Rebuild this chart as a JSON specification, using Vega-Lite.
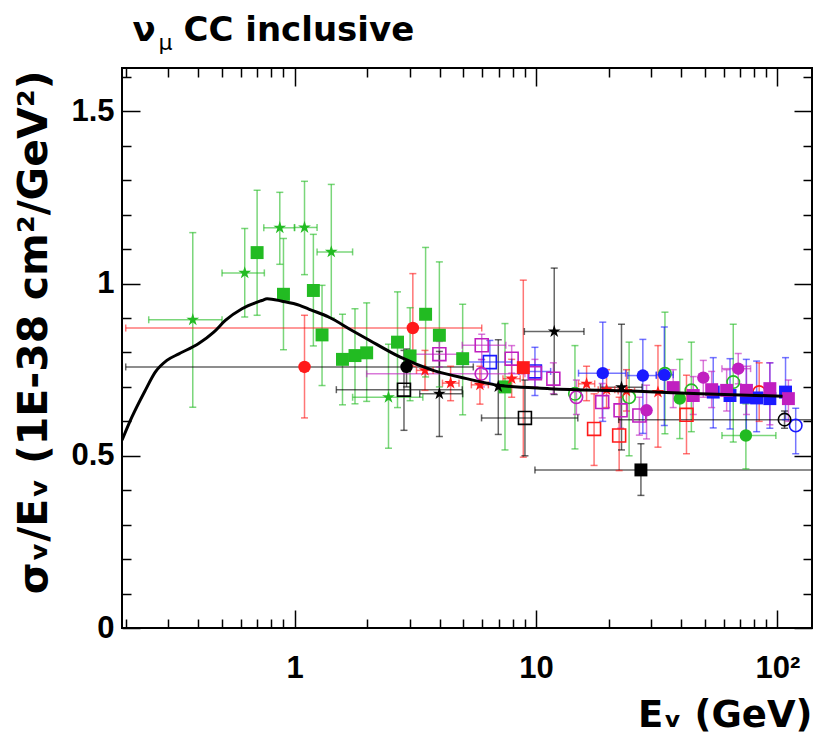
{
  "$schema": "https://vega.github.io/schema/vega-lite/v6.json",
  "width": 690,
  "height": 560,
  "autosize": "none",
  "padding": {"left": 122, "top": 68, "right": 2, "bottom": 116},
  "background": "white",
  "config": {"view": {"stroke": "black", "strokeWidth": 2}},
  "datasets": {
    "curve": [
      {"E": 0.193, "y": 0.545}, {"E": 0.212, "y": 0.612}, {"E": 0.241, "y": 0.69},
      {"E": 0.265, "y": 0.743}, {"E": 0.296, "y": 0.777}, {"E": 0.332, "y": 0.796},
      {"E": 0.401, "y": 0.826}, {"E": 0.463, "y": 0.859}, {"E": 0.517, "y": 0.893},
      {"E": 0.606, "y": 0.927}, {"E": 0.733, "y": 0.951}, {"E": 0.77, "y": 0.956},
      {"E": 0.888, "y": 0.949}, {"E": 1.05, "y": 0.937}, {"E": 1.145, "y": 0.926},
      {"E": 1.386, "y": 0.903}, {"E": 1.73, "y": 0.864}, {"E": 1.99, "y": 0.840},
      {"E": 2.73, "y": 0.787}, {"E": 3.75, "y": 0.748}, {"E": 5.16, "y": 0.724},
      {"E": 7.1, "y": 0.704}, {"E": 11.4, "y": 0.695}, {"E": 25, "y": 0.688},
      {"E": 48, "y": 0.68}, {"E": 105, "y": 0.673}
    ],
    "pts": [
      {"E": 0.379, "y": 0.895, "ylo": 0.641, "yhi": 1.148, "xlo": 0.249, "xhi": 0.501, "s": "g", "sh": "star", "f": 1},
      {"E": 0.622, "y": 1.031, "ylo": 0.903, "yhi": 1.16, "xlo": 0.501, "xhi": 0.75, "s": "g", "sh": "star", "f": 1},
      {"E": 0.869, "y": 1.162, "ylo": 1.056, "yhi": 1.265, "xlo": 0.746, "xhi": 1.0, "s": "g", "sh": "star", "f": 1},
      {"E": 1.10, "y": 1.163, "ylo": 1.026, "yhi": 1.297, "xlo": 1.0, "xhi": 1.24, "s": "g", "sh": "star", "f": 1},
      {"E": 1.42, "y": 1.092, "ylo": 0.90, "yhi": 1.288, "xlo": 1.24, "xhi": 1.74, "s": "g", "sh": "star", "f": 1},
      {"E": 2.45, "y": 0.670, "ylo": 0.522, "yhi": 0.824, "xlo": 1.74, "xhi": 3.4, "s": "g", "sh": "star", "f": 1},
      {"E": 0.70, "y": 1.090, "ylo": 0.908, "yhi": 1.271, "xlo": null, "xhi": null, "s": "g", "sh": "square", "f": 1},
      {"E": 0.90, "y": 0.969, "ylo": 0.808, "yhi": 1.131, "xlo": null, "xhi": null, "s": "g", "sh": "square", "f": 1},
      {"E": 1.197, "y": 0.980, "ylo": 0.819, "yhi": 1.143, "xlo": null, "xhi": null, "s": "g", "sh": "square", "f": 1},
      {"E": 1.30, "y": 0.851, "ylo": 0.704, "yhi": 0.995, "xlo": null, "xhi": null, "s": "g", "sh": "square", "f": 1},
      {"E": 1.58, "y": 0.78, "ylo": 0.648, "yhi": 0.911, "xlo": null, "xhi": null, "s": "g", "sh": "square", "f": 1},
      {"E": 1.78, "y": 0.791, "ylo": 0.651, "yhi": 0.927, "xlo": null, "xhi": null, "s": "g", "sh": "square", "f": 1},
      {"E": 1.99, "y": 0.799, "ylo": 0.658, "yhi": 0.944, "xlo": null, "xhi": null, "s": "g", "sh": "square", "f": 1},
      {"E": 2.67, "y": 0.830, "ylo": 0.640, "yhi": 0.976, "xlo": null, "xhi": null, "s": "g", "sh": "square", "f": 1},
      {"E": 3.01, "y": 0.79, "ylo": 0.66, "yhi": 0.93, "xlo": null, "xhi": null, "s": "g", "sh": "square", "f": 1},
      {"E": 3.49, "y": 0.911, "ylo": 0.729, "yhi": 1.105, "xlo": null, "xhi": null, "s": "g", "sh": "square", "f": 1},
      {"E": 3.98, "y": 0.850, "ylo": 0.70, "yhi": 1.063, "xlo": null, "xhi": null, "s": "g", "sh": "square", "f": 1},
      {"E": 4.97, "y": 0.782, "ylo": 0.619, "yhi": 0.94, "xlo": null, "xhi": null, "s": "g", "sh": "square", "f": 1},
      {"E": 7.44, "y": 0.70, "ylo": 0.517, "yhi": 0.884, "xlo": null, "xhi": null, "s": "g", "sh": "square", "f": 1},
      {"E": 34.2, "y": 0.738, "ylo": 0.564, "yhi": 0.917, "xlo": null, "xhi": null, "s": "g", "sh": "circle", "f": 0},
      {"E": 65.6, "y": 0.714, "ylo": 0.54, "yhi": 0.882, "xlo": null, "xhi": null, "s": "g", "sh": "circle", "f": 0},
      {"E": 14.5, "y": 0.68, "ylo": 0.52, "yhi": 0.82, "xlo": null, "xhi": null, "s": "g", "sh": "circle", "f": 0},
      {"E": 24.3, "y": 0.67, "ylo": 0.50, "yhi": 0.83, "xlo": null, "xhi": null, "s": "g", "sh": "circle", "f": 0},
      {"E": 44, "y": 0.69, "ylo": 0.57, "yhi": 0.83, "xlo": null, "xhi": null, "s": "g", "sh": "circle", "f": 0},
      {"E": 74, "y": 0.559, "ylo": 0.462, "yhi": 0.651, "xlo": 58.9, "xhi": 98.5, "s": "g", "sh": "circle", "f": 1},
      {"E": 39.4, "y": 0.666, "ylo": 0.55, "yhi": 0.78, "xlo": null, "xhi": null, "s": "g", "sh": "circle", "f": 1},
      {"E": 1.10, "y": 0.758, "ylo": 0.61, "yhi": 0.908, "xlo": null, "xhi": null, "s": "r", "sh": "circle", "f": 1},
      {"E": 3.09, "y": 0.871, "ylo": 0.76, "yhi": 1.029, "xlo": 0.2, "xhi": 5.96, "s": "r", "sh": "circle", "f": 1},
      {"E": 3.47, "y": 0.748, "ylo": 0.69, "yhi": 0.806, "xlo": 3.2, "xhi": 3.75, "s": "r", "sh": "star", "f": 1},
      {"E": 4.43, "y": 0.711, "ylo": 0.66, "yhi": 0.76, "xlo": 4.1, "xhi": 4.8, "s": "r", "sh": "star", "f": 1},
      {"E": 5.86, "y": 0.706, "ylo": 0.65, "yhi": 0.76, "xlo": 5.4, "xhi": 6.35, "s": "r", "sh": "star", "f": 1},
      {"E": 7.93, "y": 0.724, "ylo": 0.67, "yhi": 0.78, "xlo": 7.3, "xhi": 8.6, "s": "r", "sh": "star", "f": 1},
      {"E": 16.2, "y": 0.709, "ylo": 0.66, "yhi": 0.76, "xlo": 15.0, "xhi": 17.5, "s": "r", "sh": "star", "f": 1},
      {"E": 19.6, "y": 0.692, "ylo": 0.64, "yhi": 0.75, "xlo": 18.1, "xhi": 21.2, "s": "r", "sh": "star", "f": 1},
      {"E": 23.7, "y": 0.688, "ylo": 0.63, "yhi": 0.75, "xlo": 21.9, "xhi": 25.6, "s": "r", "sh": "star", "f": 1},
      {"E": 32, "y": 0.685, "ylo": 0.525, "yhi": 0.82, "xlo": null, "xhi": null, "s": "r", "sh": "star", "f": 1},
      {"E": 8.86, "y": 0.756, "ylo": 0.496, "yhi": 1.01, "xlo": null, "xhi": null, "s": "r", "sh": "square", "f": 1},
      {"E": 17.4, "y": 0.578, "ylo": 0.472, "yhi": 0.68, "xlo": null, "xhi": null, "s": "r", "sh": "square", "f": 0},
      {"E": 22.1, "y": 0.559, "ylo": 0.457, "yhi": 0.67, "xlo": null, "xhi": null, "s": "r", "sh": "square", "f": 0},
      {"E": 42, "y": 0.619, "ylo": 0.506, "yhi": 0.734, "xlo": null, "xhi": null, "s": "r", "sh": "square", "f": 0},
      {"E": 84, "y": 0.685, "ylo": 0.6, "yhi": 0.77, "xlo": null, "xhi": null, "s": "r", "sh": "circle", "f": 0},
      {"E": 18.9, "y": 0.74, "ylo": 0.60, "yhi": 0.888, "xlo": 15, "xhi": 23.5, "s": "b", "sh": "circle", "f": 1},
      {"E": 27.7, "y": 0.733, "ylo": 0.565, "yhi": 0.838, "xlo": 24, "xhi": 31.5, "s": "b", "sh": "circle", "f": 1},
      {"E": 34, "y": 0.735, "ylo": 0.588, "yhi": 0.874, "xlo": 31.5, "xhi": 37, "s": "b", "sh": "circle", "f": 1},
      {"E": 54.2, "y": 0.685, "ylo": 0.581, "yhi": 0.785, "xlo": null, "xhi": null, "s": "b", "sh": "square", "f": 1},
      {"E": 63.6, "y": 0.675, "ylo": 0.578, "yhi": 0.782, "xlo": null, "xhi": null, "s": "b", "sh": "square", "f": 1},
      {"E": 74.3, "y": 0.670, "ylo": 0.57, "yhi": 0.78, "xlo": null, "xhi": null, "s": "b", "sh": "square", "f": 1},
      {"E": 82, "y": 0.668, "ylo": 0.57, "yhi": 0.775, "xlo": null, "xhi": null, "s": "b", "sh": "square", "f": 1},
      {"E": 93, "y": 0.666, "ylo": 0.58, "yhi": 0.77, "xlo": null, "xhi": null, "s": "b", "sh": "square", "f": 1},
      {"E": 108, "y": 0.685, "ylo": 0.605, "yhi": 0.785, "xlo": null, "xhi": null, "s": "b", "sh": "square", "f": 1},
      {"E": 6.44, "y": 0.772, "ylo": 0.71, "yhi": 0.835, "xlo": 5.0, "xhi": 7.93, "s": "b", "sh": "square", "f": 0},
      {"E": 9.9, "y": 0.745, "ylo": 0.675, "yhi": 0.815, "xlo": 8.5, "xhi": 11.5, "s": "b", "sh": "square", "f": 0},
      {"E": 119, "y": 0.588, "ylo": 0.506, "yhi": 0.638, "xlo": null, "xhi": null, "s": "b", "sh": "circle", "f": 0},
      {"E": 3.98, "y": 0.795, "ylo": 0.758, "yhi": 0.832, "xlo": 2.95, "xhi": 4.95, "s": "m", "sh": "square", "f": 0},
      {"E": 5.96, "y": 0.821, "ylo": 0.779, "yhi": 0.853, "xlo": 4.95, "xhi": 7.5, "s": "m", "sh": "square", "f": 0},
      {"E": 7.93, "y": 0.782, "ylo": 0.74, "yhi": 0.82, "xlo": null, "xhi": null, "s": "m", "sh": "square", "f": 0},
      {"E": 9.9, "y": 0.74, "ylo": 0.70, "yhi": 0.78, "xlo": null, "xhi": null, "s": "m", "sh": "square", "f": 0},
      {"E": 11.8, "y": 0.724, "ylo": 0.68, "yhi": 0.77, "xlo": null, "xhi": null, "s": "m", "sh": "square", "f": 0},
      {"E": 18.8, "y": 0.656, "ylo": 0.61, "yhi": 0.71, "xlo": null, "xhi": null, "s": "m", "sh": "square", "f": 0},
      {"E": 22.4, "y": 0.632, "ylo": 0.58, "yhi": 0.69, "xlo": null, "xhi": null, "s": "m", "sh": "square", "f": 0},
      {"E": 26.8, "y": 0.617, "ylo": 0.56, "yhi": 0.67, "xlo": null, "xhi": null, "s": "m", "sh": "square", "f": 0},
      {"E": 5.94, "y": 0.738, "ylo": 0.70, "yhi": 0.78, "xlo": 1.99, "xhi": 9.0, "s": "m", "sh": "circle", "f": 0},
      {"E": 14.7, "y": 0.670, "ylo": 0.62, "yhi": 0.72, "xlo": null, "xhi": null, "s": "m", "sh": "circle", "f": 0},
      {"E": 28.7, "y": 0.632, "ylo": 0.549, "yhi": 0.705, "xlo": null, "xhi": null, "s": "m", "sh": "circle", "f": 1},
      {"E": 49.3, "y": 0.727, "ylo": 0.67, "yhi": 0.777, "xlo": null, "xhi": null, "s": "m", "sh": "circle", "f": 1},
      {"E": 68.8, "y": 0.753, "ylo": 0.709, "yhi": 0.797, "xlo": 58.9, "xhi": 77.4, "s": "m", "sh": "circle", "f": 1},
      {"E": 37, "y": 0.698, "ylo": 0.64, "yhi": 0.75, "xlo": null, "xhi": null, "s": "m", "sh": "square", "f": 1},
      {"E": 44.8, "y": 0.675, "ylo": 0.62, "yhi": 0.73, "xlo": null, "xhi": null, "s": "m", "sh": "square", "f": 1},
      {"E": 53.4, "y": 0.692, "ylo": 0.64, "yhi": 0.745, "xlo": null, "xhi": null, "s": "m", "sh": "square", "f": 1},
      {"E": 61.6, "y": 0.690, "ylo": 0.63, "yhi": 0.75, "xlo": null, "xhi": null, "s": "m", "sh": "square", "f": 1},
      {"E": 74.4, "y": 0.690, "ylo": 0.62, "yhi": 0.76, "xlo": null, "xhi": null, "s": "m", "sh": "square", "f": 1},
      {"E": 93, "y": 0.695, "ylo": 0.59, "yhi": 0.77, "xlo": null, "xhi": null, "s": "m", "sh": "square", "f": 1},
      {"E": 111, "y": 0.666, "ylo": 0.60, "yhi": 0.72, "xlo": null, "xhi": null, "s": "m", "sh": "square", "f": 1},
      {"E": 2.91, "y": 0.758, "ylo": 0.70, "yhi": 0.81, "xlo": 0.2, "xhi": 5.5, "s": "k", "sh": "circle", "f": 1},
      {"E": 27.2, "y": 0.459, "ylo": 0.385, "yhi": 0.535, "xlo": 9.9, "xhi": 200, "s": "k", "sh": "square", "f": 1},
      {"E": 2.84, "y": 0.692, "ylo": 0.574, "yhi": 0.806, "xlo": 1.49, "xhi": 4.95, "s": "k", "sh": "square", "f": 0},
      {"E": 9.0, "y": 0.61, "ylo": 0.50, "yhi": 0.72, "xlo": 5.95, "xhi": 14.9, "s": "k", "sh": "square", "f": 0},
      {"E": 3.98, "y": 0.68, "ylo": 0.556, "yhi": 0.803, "xlo": 3.3, "xhi": 4.97, "s": "k", "sh": "star", "f": 1},
      {"E": 11.9, "y": 0.861, "ylo": 0.678, "yhi": 1.045, "xlo": 8.95, "xhi": 15.8, "s": "k", "sh": "star", "f": 1},
      {"E": 6.98, "y": 0.701, "ylo": 0.562, "yhi": 0.837, "xlo": null, "xhi": null, "s": "k", "sh": "star", "f": 1},
      {"E": 22.6, "y": 0.699, "ylo": 0.517, "yhi": 0.882, "xlo": 18.5, "xhi": 27.5, "s": "k", "sh": "star", "f": 1},
      {"E": 107, "y": 0.605, "ylo": 0.58, "yhi": 0.63, "xlo": 22, "xhi": 200, "s": "k", "sh": "circle", "f": 0}
    ]
  },
  "resolve": {"axis": {"x": "independent", "y": "independent"}},
  "layer": [
    {
      "data": {"name": "pts"},
      "transform": [{"filter": "datum.ylo != null"}],
      "mark": {"type": "rule", "strokeWidth": 1.5, "opacity": 0.6, "clip": true},
      "encoding": {
        "x": {"field": "E", "type": "quantitative",
          "scale": {"type": "log", "domain": [0.193, 139], "nice": false},
          "axis": {"orient": "top", "offset": -18, "values": [1, 10, 100],
            "labels": false, "grid": false, "domain": false,
            "tickColor": "black", "tickWidth": 1.5, "tickSize": 18,
            "title": "μ", "titleFont": "DejaVu Sans", "titleFontSize": 22, "titleFontWeight": "normal", "titleColor": "black",
            "titleAngle": 0, "titleAlign": "left", "titleBaseline": "alphabetic", "titleX": 36, "titleY": -37}},
        "y": {"field": "ylo", "type": "quantitative",
          "scale": {"domain": [0, 1.626], "nice": false, "zero": false},
          "axis": {"orient": "right", "offset": -18, "values": [0, 0.5, 1, 1.5],
            "labels": false, "grid": false, "domain": false,
            "tickColor": "black", "tickWidth": 1.5, "tickSize": 18,
            "title": "CC inclusive", "titleFont": "DejaVu Sans", "titleFontSize": 34, "titleFontWeight": "bold", "titleColor": "black",
            "titleAngle": 0, "titleAlign": "left", "titleBaseline": "alphabetic", "titleX": -611, "titleY": -28}},
        "y2": {"field": "yhi"},
        "color": {"field": "s", "type": "nominal", "legend": null,
          "scale": {"domain": ["g","r","b","m","k"], "range": ["#22bb22","#ff1a1a","#1a1aff","#c01fc0","#000000"]}}
      }
    },
    {
      "data": {"name": "pts"},
      "transform": [{"filter": "datum.xlo != null"}],
      "mark": {"type": "rule", "strokeWidth": 1.5, "opacity": 0.6, "clip": true},
      "encoding": {
        "x": {"field": "xlo", "type": "quantitative",
          "axis": {"orient": "top", "offset": -9, "values": [0.2,0.3,0.4,0.5,0.6,0.7,0.8,0.9,2,3,4,5,6,7,8,9,20,30,40,50,60,70,80,90],
            "labels": false, "grid": false, "domain": false,
            "tickColor": "black", "tickWidth": 1.5, "tickSize": 9,
            "title": "ν", "titleFont": "DejaVu Sans", "titleFontSize": 34, "titleFontWeight": "bold", "titleColor": "black",
            "titleAngle": 0, "titleAlign": "left", "titleBaseline": "alphabetic", "titleX": 10, "titleY": -37}},
        "x2": {"field": "xhi"},
        "y": {"field": "y", "type": "quantitative",
          "axis": {"orient": "right", "offset": -9, "values": [0.1,0.2,0.3,0.4,0.6,0.7,0.8,0.9,1.1,1.2,1.3,1.4,1.6],
            "labels": false, "title": null, "grid": false, "domain": false,
            "tickColor": "black", "tickWidth": 1.5, "tickSize": 9}},
        "color": {"field": "s", "type": "nominal", "legend": null}
      }
    },
    {
      "data": {"name": "pts"},
      "transform": [{"filter": "datum.ylo != null"}, {"fold": ["ylo", "yhi"], "as": ["k", "capy"]}],
      "mark": {"type": "point", "shape": "M-1,0H1", "size": 49, "strokeWidth": 1.5, "opacity": 0.6, "filled": false, "clip": true},
      "encoding": {
        "x": {"field": "E", "type": "quantitative",
          "axis": {"orient": "bottom", "offset": -18, "values": [1, 10, 100],
            "labels": false, "title": null, "grid": false, "domain": false,
            "tickColor": "black", "tickWidth": 1.5, "tickSize": 18}},
        "y": {"field": "capy", "type": "quantitative",
          "axis": {"orient": "left", "offset": -18, "values": [0, 0.5, 1, 1.5],
            "labels": false, "title": null, "grid": false, "domain": false,
            "tickColor": "black", "tickWidth": 1.5, "tickSize": 18}},
        "color": {"field": "s", "type": "nominal", "legend": null}
      }
    },
    {
      "data": {"name": "pts"},
      "transform": [{"filter": "datum.xlo != null"}, {"fold": ["xlo", "xhi"], "as": ["k", "capx"]}],
      "mark": {"type": "point", "shape": "M0,-1V1", "size": 49, "strokeWidth": 1.5, "opacity": 0.6, "filled": false, "clip": true},
      "encoding": {
        "x": {"field": "capx", "type": "quantitative",
          "axis": {"orient": "bottom", "offset": -9, "values": [0.2,0.3,0.4,0.5,0.6,0.7,0.8,0.9,2,3,4,5,6,7,8,9,20,30,40,50,60,70,80,90],
            "labels": false, "title": null, "grid": false, "domain": false,
            "tickColor": "black", "tickWidth": 1.5, "tickSize": 9}},
        "y": {"field": "y", "type": "quantitative",
          "axis": {"orient": "left", "offset": -9, "values": [0.1,0.2,0.3,0.4,0.6,0.7,0.8,0.9,1.1,1.2,1.3,1.4,1.6],
            "labels": false, "title": null, "grid": false, "domain": false,
            "tickColor": "black", "tickWidth": 1.5, "tickSize": 9}},
        "color": {"field": "s", "type": "nominal", "legend": null}
      }
    },
    {
      "data": {"name": "pts"},
      "transform": [{"filter": "datum.f == 0"}],
      "mark": {"type": "point", "filled": false, "strokeWidth": 1.6, "opacity": 1},
      "encoding": {
        "x": {"field": "E", "type": "quantitative", "axis": null},
        "y": {"field": "y", "type": "quantitative", "axis": null},
        "color": {"field": "s", "type": "nominal", "legend": null},
        "shape": {"field": "sh", "type": "nominal", "legend": null,
          "scale": {"domain": ["circle","square","star"], "range": ["circle","square","M0,-1L0.225,-0.309L0.951,-0.309L0.363,0.118L0.588,0.809L0,0.382L-0.588,0.809L-0.363,0.118L-0.951,-0.309L-0.225,-0.309Z"]}},
        "size": {"field": "sh", "type": "nominal", "legend": null,
          "scale": {"domain": ["circle","square","star"], "range": [155, 180, 270]}}
      }
    },
    {
      "data": {"name": "pts"},
      "transform": [{"filter": "datum.f == 1"}],
      "mark": {"type": "point", "filled": true, "opacity": 1},
      "encoding": {
        "x": {"field": "E", "type": "quantitative", "axis": null},
        "y": {"field": "y", "type": "quantitative", "axis": null},
        "color": {"field": "s", "type": "nominal", "legend": null},
        "shape": {"field": "sh", "type": "nominal", "legend": null},
        "size": {"field": "sh", "type": "nominal", "legend": null}
      }
    },
    {
      "data": {"name": "curve"},
      "mark": {"type": "line", "color": "black", "strokeWidth": 3, "interpolate": "monotone", "clip": true},
      "encoding": {
        "x": {"field": "E", "type": "quantitative",
          "axis": {"orient": "bottom", "values": [1, 10, 100], "ticks": false, "tickSize": 0, "domain": false,
            "labelExpr": "datum.value==1?'1':datum.value==10?'10':'10²'",
            "labelFont": "Liberation Sans", "labelFontWeight": "bold", "labelFontSize": 31, "labelColor": "black",
            "labelPadding": 25, "labelFlush": false, "labelOverlap": false, "grid": false,
            "title": "Eᵥ (GeV)", "titleFont": "DejaVu Sans", "titleFontSize": 37, "titleFontWeight": "bold", "titleColor": "black",
            "titleAnchor": "end", "titleAlign": "right", "titleBaseline": "alphabetic", "titleX": 690, "titleY": 98}},
        "y": {"field": "y", "type": "quantitative",
          "axis": {"orient": "left", "values": [0, 0.5, 1, 1.5], "ticks": false, "tickSize": 0, "domain": false,
            "labelExpr": "datum.value==0?'0':datum.value==0.5?'0.5':datum.value==1?'1':'1.5'",
            "labelFont": "Liberation Sans", "labelFontWeight": "bold", "labelFontSize": 31, "labelColor": "black",
            "labelPadding": 8, "labelFlush": false, "labelOverlap": false, "grid": false,
            "title": "σᵥ/Eᵥ (1E-38 cm²/GeV²)", "titleFont": "DejaVu Sans", "titleFontSize": 41, "titleFontWeight": "bold", "titleColor": "black",
            "titleAnchor": "end", "titleAlign": "right", "titleBaseline": "alphabetic", "titleAngle": -90, "titleX": -76, "titleY": 2}}
      }
    }
  ]
}
